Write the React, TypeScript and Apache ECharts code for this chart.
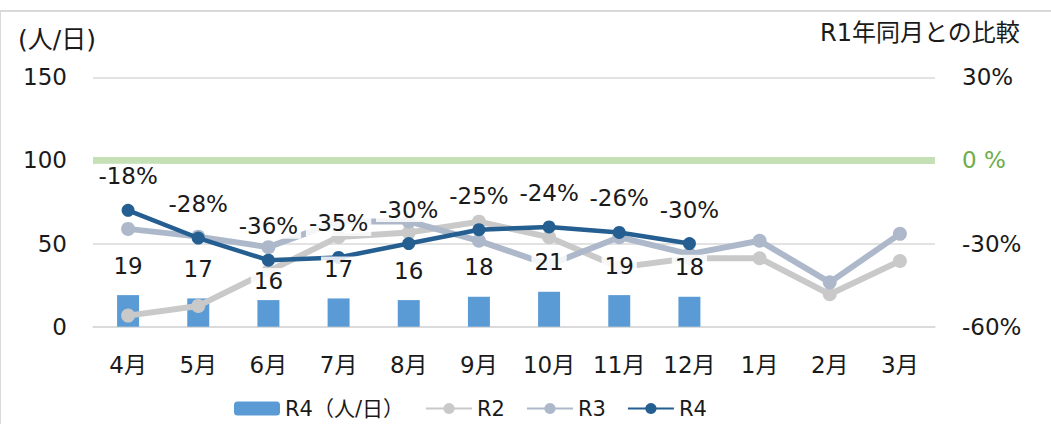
import React, { useEffect, useRef } from "react";
import * as echarts from "echarts";

const months = ["4月", "5月", "6月", "7月", "8月", "9月", "10月", "11月", "12月", "1月", "2月", "3月"];
const barValues = [19, 17, 16, 17, 16, 18, 21, 19, 18, null, null, null];
const r2Values = [-56, -52.5, -40, -27.6, -26, -22.1, -27.7, -38.6, -35.3, -35.3, -48.3, -36.3];
const r3Values = [-24.7, -27.5, -31.3, -22, -22, -29, -37.7, -27.7, -33.8, -29, -44, -26.5];
const r4Values = [-18, -28, -36, -35, -30, -25, -24, -26, -30, null, null, null];
const leftTicks = { min: 0, max: 150, interval: 50 };
const rightTicks = { min: -60, max: 30, interval: 30 };

const FONT = "'DejaVu Sans', 'Noto Sans CJK JP', sans-serif";
const TXT = "#1a1a1a";
const FS = 23;

export default function App() {
  const ref = useRef<HTMLDivElement>(null);
  useEffect(() => {
    const chart = echarts.init(ref.current!, null, { renderer: "svg" });
    const labelBox = {
      backgroundColor: "rgba(255,255,255,0.85)",
      padding: [1, 3, 1, 3],
    };
    chart.setOption({
      animation: false,
      textStyle: { fontFamily: FONT },
      grid: { left: 93, right: 116, top: 77.3, bottom: 97.3 },
      graphic: [
        {
          type: "rect",
          shape: { x: 0, y: 11, width: 1200, height: 600 },
          style: { fill: "none", stroke: "#D9D9D9", lineWidth: 2 },
          silent: true,
        },
        {
          type: "text",
          left: 18,
          top: 27,
          style: { text: "(人/日)", fontSize: 25, fontFamily: FONT, fill: TXT },
        },
        {
          type: "text",
          right: 31,
          top: 21,
          style: { text: "R1年同月との比較", fontSize: 24, fontFamily: FONT, fill: TXT },
        },
      ],
      legend: {
        left: 229,
        top: 393,
        itemWidth: 46,
        itemHeight: 14,
        itemGap: 21,
        textStyle: { fontSize: 21, fontFamily: FONT, color: TXT },
        data: ["R4（人/日）", "R2", "R3", "R4"],
      },
      xAxis: {
        type: "category",
        data: months,
        axisTick: { show: false },
        axisLine: { lineStyle: { color: "#D9D9D9", width: 1.5 } },
        axisLabel: { fontSize: FS, color: TXT, margin: 27, fontFamily: FONT },
      },
      yAxis: [
        {
          type: "value",
          min: leftTicks.min,
          max: leftTicks.max,
          interval: leftTicks.interval,
          axisLine: { show: false },
          axisTick: { show: false },
          splitLine: { lineStyle: { color: "#D9D9D9", width: 1.5 } },
          axisLabel: { fontSize: FS, color: TXT, margin: 26, fontFamily: FONT },
        },
        {
          type: "value",
          min: rightTicks.min,
          max: rightTicks.max,
          interval: rightTicks.interval,
          axisLine: { show: false },
          axisTick: { show: false },
          splitLine: { show: false },
          axisLabel: {
            fontSize: FS,
            color: TXT,
            margin: 27,
            fontFamily: FONT,
            formatter: (v: number) => (v === 0 ? "{g|0 %}" : v + "%"),
            rich: { g: { color: "#70AD47", fontSize: FS, fontFamily: FONT } },
          },
        },
      ],
      series: [
        {
          name: "R4（人/日）",
          type: "bar",
          yAxisIndex: 0,
          barWidth: 22,
          z: 1,
          itemStyle: { color: "#5B9BD5" },
          data: barValues,
        },
        {
          name: "R2",
          type: "line",
          yAxisIndex: 1,
          data: r2Values,
          symbol: "circle",
          symbolSize: 14,
          lineStyle: { color: "#C9C9C9", width: 6 },
          itemStyle: { color: "#C9C9C9" },
          markLine: {
            silent: true,
            symbol: "none",
            label: { show: false },
            lineStyle: { color: "#C5E0B4", width: 7, type: "solid" },
            data: [{ yAxis: 0 }],
          },
        },
        {
          name: "R3",
          type: "line",
          yAxisIndex: 1,
          data: r3Values,
          symbol: "circle",
          symbolSize: 14,
          lineStyle: { color: "#ADB9CA", width: 6 },
          itemStyle: { color: "#ADB9CA" },
        },
        {
          name: "R4",
          type: "line",
          yAxisIndex: 1,
          z: 5,
          data: r4Values,
          symbol: "circle",
          symbolSize: 13,
          lineStyle: { color: "#255E91", width: 4.5 },
          itemStyle: { color: "#255E91" },
          label: {
            show: true,
            position: "top",
            distance: 15,
            fontSize: FS,
            color: TXT,
            fontFamily: FONT,
            formatter: "{c}%",
            ...labelBox,
          },
        },
        {
          name: "barLabels",
          type: "bar",
          yAxisIndex: 0,
          barWidth: 22,
          barGap: "-100%",
          z: 6,
          silent: true,
          itemStyle: { color: "rgba(0,0,0,0)" },
          data: barValues.map((v, i) =>
            i === 2 ? { value: v, label: { offset: [0, 10] } } : v
          ),
          label: {
            show: true,
            position: "top",
            distance: 17,
            fontSize: FS,
            color: TXT,
            fontFamily: FONT,
            ...labelBox,
          },
        },
      ],
    });
    return () => chart.dispose();
  }, []);
  return (
    <div
      ref={ref}
      style={{ position: "fixed", left: 0, top: 0, width: 1051, height: 424, background: "#fff" }}
    />
  );
}
